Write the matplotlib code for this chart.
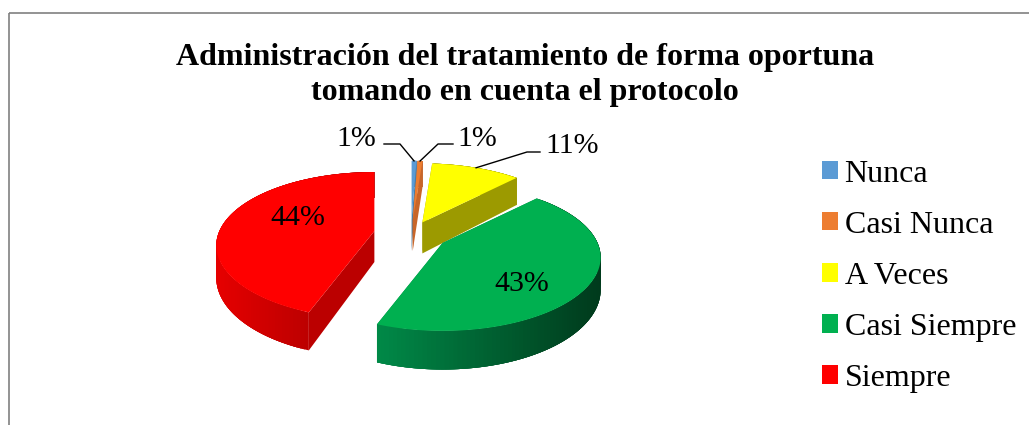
import numpy as np
import matplotlib
matplotlib.use('Agg')
from matplotlib import pyplot as plt
from matplotlib.patches import Polygon, Patch, Rectangle

categories = ['Nunca', 'Casi Nunca', 'A Veces', 'Casi Siempre', 'Siempre']
values = [0.6, 0.6, 11, 43.4, 44.4]

colors = ['#5B9BD5', '#ED7D31', '#FFFF00', '#00B050', '#FF0000']
face_colors = ['#4a7ea8', '#c8662a', '#9c9a00', '#00803f', '#bb0000']
wall_left = ['#4a7ea8', '#c8662a', '#9c9a00', '#008a48', '#e60000']
wall_right = ['#4a7ea8', '#c8662a', '#9c9a00', '#003a1c', '#a00000']
explode = [0.2, 0.2, 0.18, 0.24, 0.24]

# pie layout, in pixels
cx, cy = 411, 234
rx, ry = 155, 70.6
persp = 0.197
depth = 31

plt.rcParams['font.family'] = ['Liberation Serif', 'DejaVu Serif']

fig = plt.figure(figsize=(10.29, 4.25), dpi=100)
ax = fig.add_axes([0, 0, 1, 1])
ax.set_xlim(0, 1029)
ax.set_ylim(425, 0)
ax.axis('off')

ax.add_patch(Rectangle((8.5, 12.5), 1100, 500, fill=False, edgecolor='#808080', linewidth=1.2))


def project(angle, ox, oy):
    # angle in degrees, clockwise from the top of the pie
    a = np.radians(angle)
    s = 1 / (1 + persp * np.cos(a))
    return ox + rx * np.sin(a) * s, oy - ry * np.cos(a) * s, s


total = sum(values)
edges = np.cumsum([0] + values) / total * 360

centers = []
for i in range(len(values)):
    mid = np.radians((edges[i] + edges[i + 1]) / 2)
    centers.append((cx + explode[i] * rx * np.sin(mid), cy - explode[i] * ry * np.cos(mid)))

z = 2
for i in range(len(values)):
    a0, a1 = edges[i], edges[i + 1]
    ox, oy = centers[i]
    angles = np.linspace(a0, a1, 121)
    xs, ys, ss = project(angles, ox, oy)

    # cut faces of the slice
    for k in [0, -1]:
        face = [(ox, oy), (xs[k], ys[k]), (xs[k], ys[k] + depth * ss[k]), (ox, oy + depth)]
        ax.add_patch(Polygon(face, closed=True, facecolor=face_colors[i], edgecolor='none', zorder=z))
    z += 1

    # outer wall as overlapping strips for the shading
    c0 = np.array(matplotlib.colors.to_rgb(wall_left[i]))
    c1 = np.array(matplotlib.colors.to_rgb(wall_right[i]))
    span = max(xs.max() - xs.min(), 1)
    for j in range(len(angles) - 1):
        e = min(j + 4, len(angles) - 1)
        t = (xs[j] - xs.min()) / span
        top_edge = list(zip(xs[j:e + 1], ys[j:e + 1]))
        low_edge = list(zip(xs[j:e + 1], ys[j:e + 1] + depth * ss[j:e + 1]))[::-1]
        ax.add_patch(Polygon(top_edge + low_edge, closed=True, facecolor=c0 + (c1 - c0) * t,
                             edgecolor='none', zorder=z))
    z += 1

    top = [(ox, oy)] + list(zip(xs, ys))
    ax.add_patch(Polygon(top, closed=True, facecolor=colors[i], edgecolor='none', zorder=z))
    z += 1

# percent labels
label_pos = [(356, 139), (477, 139), (572, 146), (522, 284), (298, 218)]
for v, (x, y) in zip(values, label_pos):
    ax.text(x, y, f'{round(v)}%', fontsize=21.5, ha='center', va='center', color='black', zorder=z + 1)

# leader lines go from the rim to the elbow next to the label
elbows = [[(384, 144), (400, 144)], [(453, 144), (438, 144)], [(540, 152), (527, 152)]]
for i, pts in enumerate(elbows):
    rim_x, rim_y, _ = project((edges[i] + edges[i + 1]) / 2, *centers[i])
    line = pts + [(rim_x, rim_y)]
    ax.plot([p[0] for p in line], [p[1] for p in line], color='black', linewidth=1, zorder=z)

ax.text(525, 75, 'Administración del tratamiento de forma oportuna\ntomando en cuenta el protocolo',
        fontsize=23, fontweight='bold', ha='center', va='center', linespacing=1.25)

handles = [Patch(facecolor=c, edgecolor='none') for c in colors]
ax.legend(handles, categories, loc='center left', bbox_to_anchor=(0.799, 0.35), frameon=False,
          fontsize=23, handlelength=0.5, handleheight=0.5, handletextpad=0.2,
          labelspacing=0.69, borderpad=0, borderaxespad=0)

fig.savefig('out.png', dpi=100)
